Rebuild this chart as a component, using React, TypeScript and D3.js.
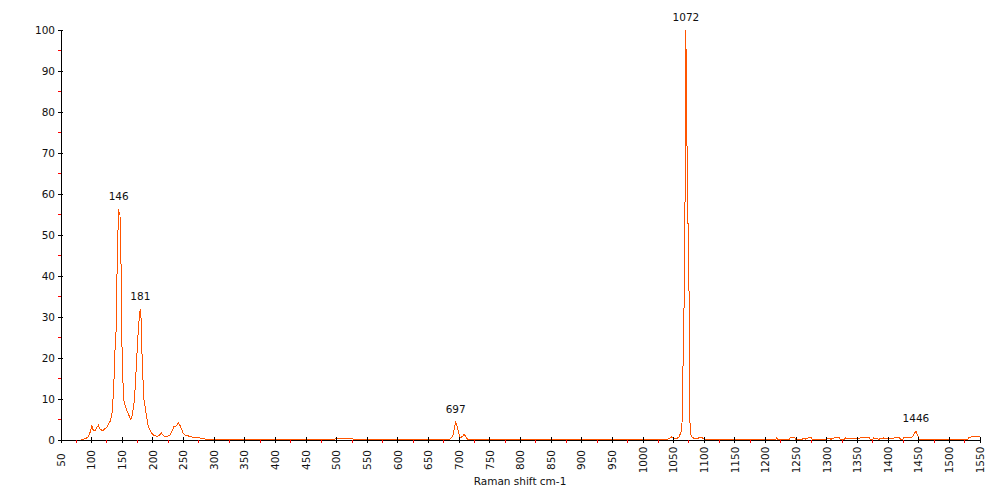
import * as d3 from 'd3';

// Raman spectrum: [shift cm-1, relative intensity]
const spectrum: [number, number][] = [
  [83.7, 0], [84, 0.05], [88, 0.3], [92, 0.5], [95, 0.9], [97, 1.6], [99, 2.8], [100, 3.6],
  [102, 2.6], [104, 2.2], [106, 2.4], [108, 3], [111, 3.6], [113, 2.8], [115, 2.5], [118, 2.3],
  [120, 2.5], [122, 2.8], [124.6, 3], [127, 3.7], [130, 4.5], [132, 5.5], [134, 7.3], [136.5, 14.6],
  [138, 21.5], [139.8, 26.4], [140.9, 36.6], [142.5, 48.8], [144.2, 56.3], [145, 55], [146.3, 54.9],
  [147, 48], [148, 42.7], [149, 30], [150, 17.6], [151.5, 13], [152.5, 9.8], [155, 8.2], [158, 7],
  [161, 6], [163.7, 5], [166, 5.8], [168, 7.8], [170, 10], [172, 15.4], [175.3, 24.8], [178, 30.5],
  [179.5, 31.9], [180.6, 29.7], [182.8, 17.9], [185.5, 9.8], [188.8, 6.5], [192.6, 3.3], [195, 2.5],
  [198, 1.7], [201, 1.2], [203.6, 1], [207, 0.9], [210, 1.1], [212, 1.4], [214, 1.7], [216, 1.3],
  [219.6, 0.8], [224, 0.9], [228, 1.2], [231, 2.2], [234.5, 3.3], [238, 3.4], [241.6, 4.1], [244, 3.6],
  [246, 2.9], [249, 1.8], [252.6, 1.2], [256, 1.1], [260.7, 0.8], [265, 0.7], [269, 0.6], [276, 0.5],
  [282.6, 0.3], [288, 0.15], [496, 0.15], [498, 0.4], [525, 0.4], [527, 0.15],
  [683.8, 0.15], [687.7, 0.6], [690.3, 1.4], [692.6, 3.3], [694.2, 4.3], [696.3, 3.5], [699, 1.9],
  [701.2, 0.6], [705, 0.8], [708.2, 1.4], [711, 0.7], [713.8, 0.15],
  [1040, 0.15], [1044, 0.5], [1047, 0.8], [1050, 0.5], [1055, 0.3], [1059, 0.8], [1062, 2],
  [1063.5, 3.3], [1064.7, 13.4], [1066.8, 30.9], [1068.4, 54.5], [1070, 100], [1070.6, 82],
  [1072, 70], [1073, 55], [1074.5, 47], [1076, 18], [1076.8, 1.6], [1079.5, 0.8], [1083, 0.4],
  [1088, 0.3], [1092, 0.6], [1096, 0.6], [1100, 0.15],
  [1217, 0.15], [1218, 0.5], [1220, 0.15], [1239, 0.15], [1240, 0.5], [1248, 0.5], [1249, 0.15],
  [1260, 0.15], [1261, 0.5], [1266, 0.2], [1270, 0.5], [1275, 0.5], [1276, 0.15], [1299, 0.15],
  [1300, 0.5], [1307, 0.2], [1312, 0.5], [1321, 0.5], [1322, 0.15], [1329, 0.15], [1330, 0.5],
  [1345, 0.3], [1355, 0.5], [1370, 0.5], [1371, 0.15], [1375, 0.15], [1376, 0.5], [1385, 0.2],
  [1392, 0.5], [1400, 0.3], [1410, 0.5], [1419, 0.5], [1420, 0.15], [1424, 0.15], [1425, 0.5],
  [1435, 0.5], [1438, 0.6], [1440, 0.8], [1443, 1.6], [1445.4, 2.2], [1448, 1.2], [1450.8, 0.15],
  [1530, 0.15], [1532, 0.65], [1539, 0.8], [1550, 0.8],
];

const peakLabels = [146, 181, 697, 1072, 1446];

const xMajor = d3.range(50, 1551, 50);
const xMinor = d3.range(75, 1550, 50);
const yMajor = d3.range(0, 101, 10);
const yMinor = d3.range(5, 100, 10);

const xTitle = 'Raman shift cm-1';

const WIDTH = 1000;
const HEIGHT = 500;
const LINE_COLOR = '#ff5500';
const FONT = '"DejaVu Sans", Verdana, sans-serif';

export default function App() {
  const x = d3.scaleLinear().domain([50, 1550]).range([61, 980]);
  const y = d3.scaleLinear().domain([0, 100]).range([440, 30]);

  const line = d3
    .line<[number, number]>()
    .x((d) => x(d[0]))
    .y((d) => y(d[1]));

  // place each label over the highest point near its nominal shift
  const peaks = peakLabels.map((p) => {
    const near = spectrum.filter((d) => Math.abs(d[0] - p) <= 6);
    const top = d3.greatest(near, (d) => d[1])!;
    return { label: String(p), pos: top };
  });

  return (
    <svg
      width={WIDTH}
      height={HEIGHT}
      style={{ position: 'absolute', left: 0, top: 0, background: '#fff' }}
      fontFamily={FONT}
    >
      <path
        d={line(spectrum) || ''}
        fill="none"
        stroke={LINE_COLOR}
        strokeWidth={1}
        shapeRendering="crispEdges"
      />

      {/* axes */}
      <g shapeRendering="crispEdges">
        <line x1={61} x2={61} y1={y(100)} y2={y(0)} stroke="#000" />
        {yMajor.map((v) => (
          <line key={'ym' + v} x1={58} x2={63} y1={y(v)} y2={y(v)} stroke="#000" />
        ))}
        {yMinor.map((v) => (
          <line key={'yn' + v} x1={58} x2={61} y1={y(v)} y2={y(v)} stroke="#ff0000" />
        ))}
        <line x1={x(50)} x2={x(1550)} y1={440} y2={440} stroke="#000" />
        {xMajor.map((v) => (
          <line key={'xm' + v} x1={x(v)} x2={x(v)} y1={437} y2={443} stroke="#000" />
        ))}
        {xMinor.map((v) => (
          <line key={'xn' + v} x1={x(v)} x2={x(v)} y1={440} y2={443} stroke="#ff0000" />
        ))}
      </g>

      {yMajor.map((v) => (
        <text
          key={'yl' + v}
          x={55}
          y={y(v)}
          dy="0.35em"
          textAnchor="end"
          fontSize={10.5}
          fill="#111"
        >
          {v}
        </text>
      ))}

      {xMajor.map((v) => (
        <text
          key={'xl' + v}
          transform={`translate(${x(v)},460) rotate(-90)`}
          dy="0.35em"
          textAnchor="middle"
          fontSize={10.5}
          fill="#111"
        >
          {v}
        </text>
      ))}

      <text x={520} y={485} textAnchor="middle" fontSize={10.5} fill="#111">
        {xTitle}
      </text>

      {peaks.map((p) => (
        <text
          key={p.label}
          x={x(p.pos[0])}
          y={y(p.pos[1]) - 9}
          textAnchor="middle"
          fontSize={10.5}
          fill="#111"
        >
          {p.label}
        </text>
      ))}
    </svg>
  );
}
